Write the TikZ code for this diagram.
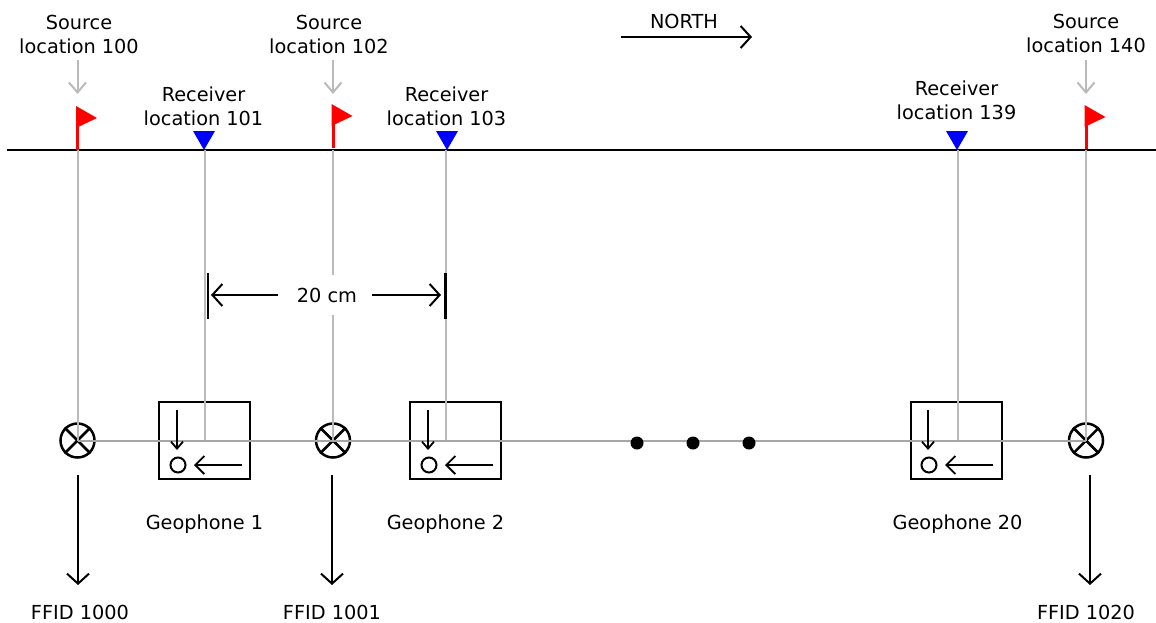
\documentclass[tikz,border=0pt]{standalone}
\usepackage{fontspec}
\setmainfont{DejaVu Sans}
\usetikzlibrary{arrows.meta}

\tikzset{
    lbl/.style={align=center, font=\fontsize{19.3}{24}\selectfont, inner sep=0pt},
    barb/.style={-{Straight Barb[length=10pt, width=22pt, line width=2pt]}},
    wire/.style={line width=2pt, draw=black!27},
    wiredark/.style={line width=2pt, draw=black!35},
    geobox/.style={draw, line width=2.5pt, minimum width=91pt, minimum height=77pt, inner sep=0pt},
    shot/.style={draw, circle, line width=2.5pt, minimum size=34pt, inner sep=0pt},
    phone/.style={draw, circle, line width=2pt, minimum size=15pt, inner sep=0pt},
    dotmark/.style={fill, circle, minimum size=13pt, inner sep=0pt},
}

\begin{document}
\begin{tikzpicture}[x=1pt, y=-1pt]
    \useasboundingbox (0,0) rectangle (1156,622);

    % --- Ground line ---
    \coordinate (lineW) at (7,150);
    \coordinate (lineE) at (1156,150);
    \draw[line width=2.2pt] (lineW) -- (lineE);

    % --- North arrow ---
    \node[lbl] (north) at (684,21) {NORTH};
    \coordinate (northW) at (621,37);
    \coordinate (northE) at (752,37);
    \draw[line width=2pt, barb] (northW) -- (northE);

    % --- Shots: name/x of flag/top of flag/x and y of label/x of arrow/x and y of FFID/number ---
    \foreach \name/\x/\ftop/\lx/\ly/\ax/\fx/\fy/\ffid in {
        100/77.5/106/79/22/78/80/612/1000,
        102/333/104/329/22/332/332/612/1001,
        140/1086/105/1086/21/1090/1086/612.5/1020} {
        \node[lbl] (src\name) at (\lx,\ly+12) {Source\\location \name};
        \coordinate (flagtop\name) at (\x,94);
        \coordinate (arrtop\name) at (\x,60);
        \draw[wire, -{Straight Barb[length=10pt, width=17pt, line width=2pt]}] (arrtop\name) -- (flagtop\name);

        % shot circle with its cross
        \node[shot] (shot\name) at (\x,440.5) {};
        \draw[line width=2.5pt] (shot\name.45) -- (shot\name.225);
        \draw[line width=2.5pt] (shot\name.135) -- (shot\name.315);

        % wire from the surface down
        \coordinate (surf\name) at (\x,150);
        \draw[wire] (surf\name) -- (shot\name.center);

        % flag
        \fill[red] (\x-1.5,\ftop+44) rectangle (\x+1.5,\ftop+6);
        \fill[red] (\x-1.5,\ftop) -- (\x+19.5,\ftop+12) -- (\x-1.5,\ftop+22) -- cycle;

        % FFID arrow
        \node[lbl] (ffid\name) at (\fx,\fy) {FFID \ffid};
        \coordinate (ffidtop\name) at (\ax,475);
        \coordinate (ffidend\name) at (\ax,585);
        \draw[line width=2.5pt, barb] (ffidtop\name) -- (ffidend\name);
    }

    % --- Geophones: receiver/x of wire/x of box/x of triangle/y of label/number ---
    \foreach \name/\x/\bx/\tx/\ly/\num in {
        101/204.5/204.5/204/106/1,
        103/445.5/455.5/447/106/2,
        139/957.5/956.5/957/100/20} {
        \node[geobox] (geo\num) at (\bx,440.5) {};
        \node[lbl] (rcv\name) at (\tx-0.5,\ly) {Receiver\\location \name};
        \node[lbl] (geolbl\num) at (\x,524) {Geophone \num};
        \coordinate (rcvtop\name) at (\x,150);
        \coordinate (rcvend\name) at (\x,441);
        \draw[wire] (rcvtop\name) -- (rcvend\name);
        \fill[blue] (\tx-11,131) -- (\tx+11,131) -- (\tx,150) -- cycle;
    }

    % --- Cable along the line ---
    \coordinate (cableW) at (77.5,441);
    \coordinate (cableE) at (1086,441);
    \draw[wiredark] (cableW) -- (cableE);

    % --- Inside the boxes ---
    \foreach \num/\x in {1/178, 2/429, 20/929} {
        \node[phone] (phone\num) at (\x,465) {};
        \coordinate (downtop\num) at (\x-1,410);
        \coordinate (downend\num) at (\x-1,450);
        \coordinate (backtop\num) at (\x+64,465);
        \coordinate (backend\num) at (\x+16,465);
        \draw[line width=1.8pt, -{Straight Barb[length=7pt, width=12pt, line width=1.8pt]}] (downtop\num) -- (downend\num);
        \draw[line width=1.8pt, -{Straight Barb[length=9pt, width=18pt, line width=1.8pt]}] (backtop\num) -- (backend\num);
    }

    % --- Dots for the geophones left out ---
    \node[dotmark] (dotA) at (637,443) {};
    \node[dotmark] (dotB) at (693,443) {};
    \node[dotmark] (dotC) at (749,443) {};

    % --- Spacing between receivers ---
    \node[lbl, fill=white, minimum width=70pt, minimum height=40pt] (spacing) at (327,295) {20 cm};
    \coordinate (barWtop) at (208,273);
    \coordinate (barWend) at (208,319);
    \coordinate (barEtop) at (445,273);
    \coordinate (barEend) at (445,319);
    \coordinate (spanW) at (211,295);
    \coordinate (spanE) at (441,295);
    \coordinate (spanWin) at (278,295);
    \coordinate (spanEin) at (372,295);
    \draw[line width=2pt] (barWtop) -- (barWend);
    \draw[line width=3pt] (barEtop) -- (barEend);
    \draw[line width=2pt, barb] (spanWin) -- (spanW);
    \draw[line width=2pt, barb] (spanEin) -- (spanE);

\end{tikzpicture}
\end{document}
